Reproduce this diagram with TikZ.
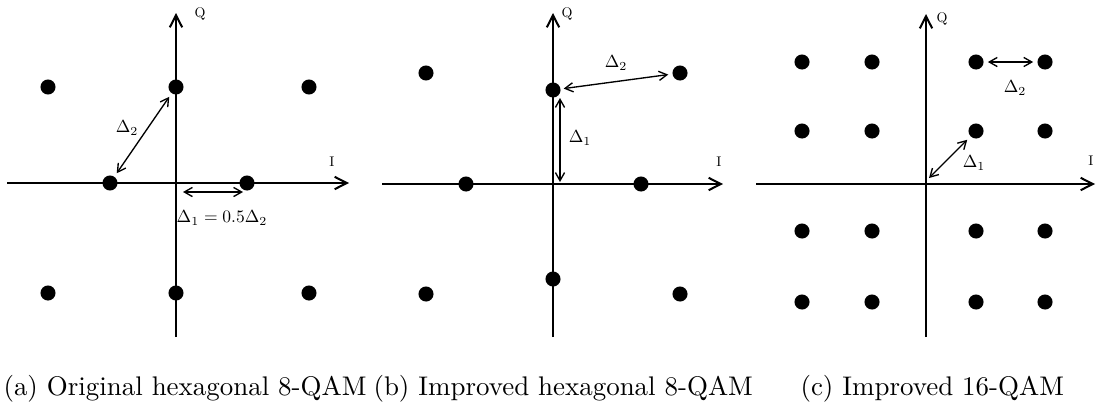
\documentclass[tikz,border=0pt]{standalone}
\usetikzlibrary{arrows.meta}
\begin{document}
\begin{tikzpicture}[x=0.3713pt,y=-0.3713pt,
  axis/.style={line width=0.75pt,-{Straight Barb[length=4.5pt,width=4.6pt,line width=0.75pt]}},
  dim/.style={line width=0.5pt,{Straight Barb[length=3pt,width=3.4pt]}-{Straight Barb[length=3pt,width=3.4pt]}},
  pt/.style={circle,fill=black,inner sep=0pt,minimum size=5.6pt,outer sep=0pt},
  axl/.style={font=\fontsize{10}{12}\selectfont,scale=0.52},
  dl/.style={font=\fontsize{10}{12}\selectfont,scale=0.65},
  captext/.style={font=\fontsize{10}{12}\selectfont,anchor=west,inner sep=0pt}]
\useasboundingbox (0,0) rectangle (1096,407);
% ---------- (a) ----------
\coordinate (aL) at (7,183); \coordinate (aR) at (349,183);
\coordinate (aB) at (176,337); \coordinate (aT) at (176,13);
\draw[axis] (aL) -- (aR);
\draw[axis] (aB) -- (aT);
\node[axl] (aI) at (332,162) {I};
\node[axl] (aQ) at (200,14) {Q};
\node[pt] (a1) at (48,87) {};
\node[pt] (a2) at (176,87) {};
\node[pt] (a3) at (309,87) {};
\node[pt] (a4) at (110,183) {};
\node[pt] (a5) at (247,183) {};
\node[pt] (a6) at (48,293) {};
\node[pt] (a7) at (176,293) {};
\node[pt] (a8) at (309,293) {};
\draw[dim,shorten <=1.6pt,shorten >=1.6pt] (a4) -- (a2);
\node[dl] (ad2) at (127,128) {$\Delta_2$};
\coordinate (ad1s) at (183,192); \coordinate (ad1e) at (243,192);
\draw[dim] (ad1s) -- (ad1e);
\node[dl] (ad1) at (222,218) {$\Delta_1=0.5\Delta_2$};
\node[captext] (capa) at (3,389) {(a) Original hexagonal 8-QAM};
% ---------- (b) ----------
\coordinate (bL) at (382,184); \coordinate (bR) at (723,184);
\coordinate (bB) at (553,337); \coordinate (bT) at (553,13);
\draw[axis] (bL) -- (bR);
\draw[axis] (bB) -- (bT);
\node[axl] (bI) at (719,162) {I};
\node[axl] (bQ) at (567,14) {Q};
\node[pt] (b1) at (426,73) {};
\node[pt] (b2) at (553,90) {};
\node[pt] (b3) at (680,73) {};
\node[pt] (b4) at (466,184) {};
\node[pt] (b5) at (641,184) {};
\node[pt] (b6) at (553,279) {};
\node[pt] (b7) at (426,294) {};
\node[pt] (b8) at (680,294) {};
\draw[dim,shorten <=1.2pt,shorten >=1.6pt] (b2) -- (b3);
\node[dl] (bd2) at (616,63) {$\Delta_2$};
\coordinate (bd1s) at (560,98); \coordinate (bd1e) at (560,182);
\draw[dim] (bd1s) -- (bd1e);
\node[dl] (bd1) at (580,138) {$\Delta_1$};
\node[captext] (capb) at (373,389) {(b) Improved hexagonal 8-QAM};
% ---------- (c) ----------
\coordinate (cL) at (756,184); \coordinate (cR) at (1095,184);
\coordinate (cB) at (926,337); \coordinate (cT) at (926,14);
\draw[axis] (cL) -- (cR);
\draw[axis] (cB) -- (cT);
\node[axl] (cI) at (1091,161) {I};
\node[axl] (cQ) at (942,19) {Q};
\foreach \x [count=\i] in {802,872,976,1045}{
  \foreach \y [count=\j] in {62,131,231,302}{
    \node[pt] (c\i\j) at (\x,\y) {};
  }
}
\draw[dim,shorten <=1.6pt,shorten >=1.6pt] (c31) -- (c41);
\node[dl] (cd2) at (1015,88) {$\Delta_2$};
\coordinate (cO) at (929,178);
\draw[dim,shorten >=1.8pt] (cO) -- (c32);
\node[dl] (cd1) at (974,163) {$\Delta_1$};
\node[captext] (capc) at (800,389) {(c) Improved 16-QAM};
\end{tikzpicture}
\end{document}
